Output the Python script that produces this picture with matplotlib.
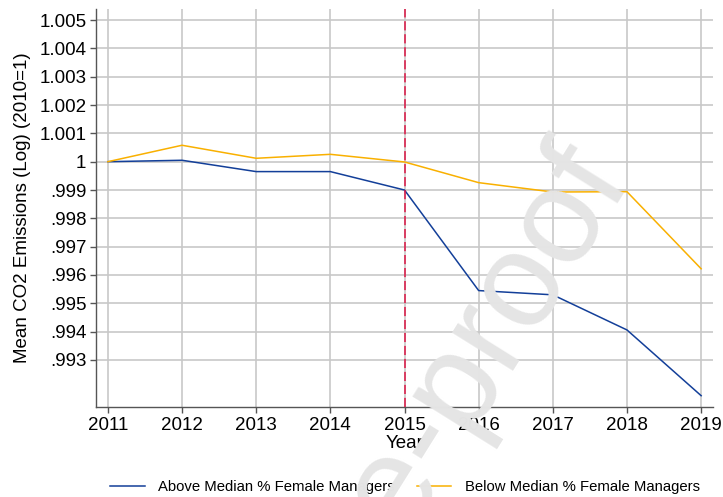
import matplotlib
matplotlib.use("Agg")
import matplotlib.pyplot as plt
from matplotlib.ticker import FixedLocator, FixedFormatter

plt.rcParams['font.family'] = ['Liberation Sans', 'DejaVu Sans']

years = [2011, 2012, 2013, 2014, 2015, 2016, 2017, 2018, 2019]
above = [1.0000, 1.00005, 0.99965, 0.99965, 0.99900, 0.99545, 0.99530, 0.99406, 0.99174]
below = [1.0000, 1.00058, 1.00012, 1.00026, 0.99999, 0.99926, 0.99893, 0.99894, 0.99622]
ytick_vals = [0.993, 0.994, 0.995, 0.996, 0.997, 0.998, 0.999, 1.000, 1.001, 1.002, 1.003, 1.004, 1.005]
ytick_labels = [".993", ".994", ".995", ".996", ".997", ".998", ".999", "1", "1.001", "1.002", "1.003", "1.004", "1.005"]
event_year = 2015

fig = plt.figure(figsize=(7.23, 4.97), dpi=100)
ax = fig.add_axes([96/723, 1-407/497, (713-96)/723, (407-9)/497])

blue = '#133f99'
orange = '#f9b000'
ax.plot(years, above, color=blue, lw=1.1, label='Above Median % Female Managers', zorder=3)
ax.plot(years, below, color=orange, lw=1.1, label='Below Median % Female Managers', zorder=3)
ax.axvline(event_year, color='#dc1443', lw=1.1, ls=(0, (6, 2.5)), zorder=4)

ax.set_xlim(2010.84, 2019.16)
ax.set_ylim(0.99134, 1.00539)
ax.set_xticks(years)
ax.set_xticklabels([str(y) for y in years])
ax.yaxis.set_major_locator(FixedLocator(ytick_vals))
ax.yaxis.set_major_formatter(FixedFormatter(ytick_labels))

ax.grid(True, color='#c8c8c8', lw=1.2, zorder=0)
ax.set_axisbelow(True)
for s in ['top', 'right']:
    ax.spines[s].set_visible(False)
for s in ['left', 'bottom']:
    ax.spines[s].set_color('#555555')
    ax.spines[s].set_linewidth(1.0)
ax.tick_params(axis='both', direction='out', length=4, width=1.0, color='#555555',
               labelsize=13.5, labelcolor='black', pad=3)

ax.set_xlabel('Year', fontsize=13.5, labelpad=1)
ax.set_ylabel('Mean CO2 Emissions (Log) (2010=1)', fontsize=13.5, labelpad=6)

fig.legend(loc='center', bbox_to_anchor=(405/723, 1-487/497), ncol=2, frameon=False,
           fontsize=10.7, handlelength=2.3, columnspacing=1.5, handletextpad=0.9)

fig.text(0.452, -0.215, 'Journal Pre-proof', fontsize=97, color='#e5e5e5',
         rotation=58, ha='center', va='center', zorder=10)

fig.savefig('out.png', dpi=100)
